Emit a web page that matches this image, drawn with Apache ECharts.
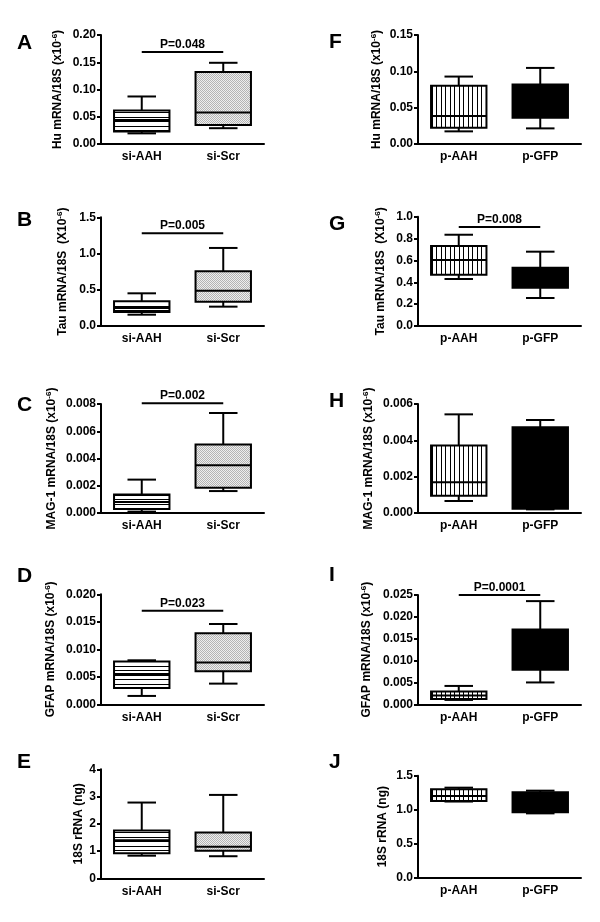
<!DOCTYPE html>
<html>
<head>
<meta charset="utf-8">
<script src="https://cdn.jsdelivr.net/npm/echarts@6/dist/echarts.min.js"></script>
<style>html,body{margin:0;padding:0;background:#fff}#c{width:600px;height:922px}</style>
</head>
<body>
<div id="c"></div>
<script>
// ---------- DATA ----------
const panelLetters = ['A','B','C','D','E','F','G','H','I','J'];
const catsLeft = ['si-AAH','si-Scr'];
const catsRight = ['p-AAH','p-GFP'];
const yNames = [
  ['Hu mRNA/18S (x10','-6',')'],
  ['Tau mRNA/18S  (X10','-6',')'],
  ['MAG-1 mRNA/18S (x10','-6',')'],
  ['GFAP mRNA/18S (x10','-6',')'],
  ['18S rRNA (ng)','',''],
  ['Hu mRNA/18S (x10','-6',')'],
  ['Tau mRNA/18S  (X10','-6',')'],
  ['MAG-1 mRNA/18S (x10','-6',')'],
  ['GFAP mRNA/18S (x10','-6',')'],
  ['18S rRNA (ng)','','']
];
const yMax      = [0.20, 1.5, 0.008, 0.020, 4, 0.15, 1.0, 0.006, 0.025, 1.5];
const yInterval = [0.05, 0.5, 0.002, 0.005, 1, 0.05, 0.2, 0.002, 0.005, 0.5];
const yDecimals = [2, 1, 3, 3, 0, 2, 1, 3, 3, 1];
// [low whisker, Q1, median, Q3, high whisker] for the two groups
const boxA = [[0.0195, 0.023, 0.044, 0.0616, 0.0872], [0.029, 0.035, 0.058, 0.132, 0.149]];
const boxB = [[0.156, 0.193, 0.25, 0.34, 0.451], [0.267, 0.336, 0.488, 0.755, 1.077]];
const boxC = [[0.0001, 0.0003, 0.0008, 0.00135, 0.00245], [0.00161, 0.00186, 0.0035, 0.00502, 0.00734]];
const boxD = [[0.00152, 0.00297, 0.0055, 0.00776, 0.0080], [0.00376, 0.0060, 0.00758, 0.0129, 0.0146]];
const boxE = [[0.83, 0.917, 1.4, 1.75, 2.78], [0.81, 1.015, 1.16, 1.68, 3.06]];
const boxF = [[0.0174, 0.0224, 0.0384, 0.080, 0.0928], [0.0215, 0.0361, 0.055, 0.0819, 0.1047]];
const boxG = [[0.43, 0.47, 0.604, 0.732, 0.835], [0.256, 0.351, 0.45, 0.534, 0.68]];
const boxH = [[0.00066, 0.00095, 0.00169, 0.00372, 0.00543], [0.0002, 0.00024, 0.0025, 0.00472, 0.00512]];
const boxI = [[0.001, 0.0012, 0.002, 0.0029, 0.0042], [0.005, 0.0079, 0.011, 0.0171, 0.0236]];
const boxJ = [[1.12, 1.127, 1.2, 1.30, 1.324], [0.946, 0.961, 1.1, 1.255, 1.28]];
const boxes = [boxA, boxB, boxC, boxD, boxE, boxF, boxG, boxH, boxI, boxJ];
// significance bars: panel index, bar height (data units), label
const pPanels = [0, 1, 2, 3, 6, 8];
const pHeights = [0.169, 1.28, 0.00805, 0.017, 0.906, 0.025];
const pLabels = ['P=0.048', 'P=0.005', 'P=0.002', 'P=0.023', 'P=0.008', 'P=0.0001'];

// ---------- LAYOUT ----------
const gridLeft = [101, 101, 101, 101, 101, 418, 418, 418, 418, 418];
const gridTop = [35, 217.3, 404, 594.3, 769.3, 35, 216.7, 404, 595, 775.7];
const gridH = [109, 108.7, 109, 110, 109, 109, 109.3, 109, 109.3, 102];
const gridW = 163;
const nameGaps = [36, 31, 42, 43, 15, 34, 30, 42, 44, 28];
const letterPos = [[17,43],[17,220],[17,405],[17,576],[17,762],[329,42],[329,224],[329,401],[329,575],[329,762]];

// ---------- PATTERNS ----------
function makeCanvas(w, h, draw) { const c = document.createElement('canvas'); c.width = w; c.height = h; const g = c.getContext('2d'); g.fillStyle = '#fff'; g.fillRect(0,0,w,h); draw(g); return c; }
const hStripe = makeCanvas(9, 9, g => { g.fillStyle = '#000'; g.fillRect(0,0,9,1); g.fillRect(0,4,9,1); });
const vStripe = makeCanvas(9, 9, g => { g.fillStyle = '#000'; g.fillRect(0,0,1,9); g.fillRect(4,0,1,9); });
const dots = makeCanvas(2, 2, g => { g.fillStyle = '#eeeeee'; g.fillRect(0,0,2,2); g.fillStyle = '#b4b4b4'; g.fillRect(0,0,1,1); g.fillRect(1,1,1,1); });
const fillsLeft = [{image: hStripe, repeat: 'repeat'}, {image: dots, repeat: 'repeat'}];
const fillsRight = [{image: vStripe, repeat: 'repeat'}, '#000'];

const FONT = 'Liberation Sans, Arial, sans-serif';

const grid = [], xAxis = [], yAxis = [], series = [], graphic = [];
for (let i = 0; i < 10; i++) {
  const right = i >= 5;
  grid.push({left: gridLeft[i], top: gridTop[i], width: gridW, height: gridH[i], containLabel: false});
  xAxis.push({
    type: 'category', gridIndex: i, data: right ? catsRight : catsLeft,
    axisLine: {lineStyle: {color: '#000', width: 2}},
    axisTick: {alignWithLabel: true, length: 4, lineStyle: {color: '#000', width: 2}},
    axisLabel: {color: '#000', fontFamily: FONT, fontWeight: 'bold', fontSize: 12, margin: 7},
    splitLine: {show: false}
  });
  const nm = yNames[i];
  yAxis.push({
    type: 'value', gridIndex: i, min: 0, max: yMax[i], interval: yInterval[i],
    name: '{n|' + nm[0] + '}' + (nm[1] ? '{s|' + nm[1] + '}{n|' + nm[2] + '}' : ''),
    nameLocation: 'middle', nameGap: nameGaps[i], nameRotate: 90,
    nameTextStyle: {rich: {
      n: {fontFamily: FONT, fontWeight: 'bold', fontSize: 12, color: '#000', lineHeight: 14},
      s: {fontFamily: FONT, fontWeight: 'bold', fontSize: 8, color: '#000', lineHeight: 14, verticalAlign: 'top'}
    }},
    axisLine: {show: true, lineStyle: {color: '#000', width: 2}},
    axisTick: {show: true, length: 4, lineStyle: {color: '#000', width: 2}},
    axisLabel: {color: '#000', fontFamily: FONT, fontWeight: 'bold', fontSize: 12, margin: 5,
      formatter: (v => v.toFixed(yDecimals[i]))},
    splitLine: {show: false}
  });
  const fills = right ? fillsRight : fillsLeft;
  series.push({
    type: 'custom', xAxisIndex: i, yAxisIndex: i, clip: false,
    data: boxes[i].map((b, k) => [k].concat(b)),
    encode: {x: 0, y: [1, 2, 3, 4, 5]},
    renderItem: function (params, api) {
      const k = api.value(0);
      const band = api.size([1, 0])[0];
      const x = api.coord([k, 0])[0];
      const yl = api.coord([k, api.value(1)])[1];
      const y1 = api.coord([k, api.value(2)])[1];
      const ym = api.coord([k, api.value(3)])[1];
      const y3 = api.coord([k, api.value(4)])[1];
      const yh = api.coord([k, api.value(5)])[1];
      const hw = band * 0.34, cw = band * 0.175;
      const ls = {stroke: '#000', lineWidth: 2};
      return {type: 'group', children: [
        {type: 'line', shape: {x1: x, y1: y3, x2: x, y2: yh}, style: ls},
        {type: 'line', shape: {x1: x - cw, y1: yh, x2: x + cw, y2: yh}, style: ls},
        {type: 'line', shape: {x1: x, y1: y1, x2: x, y2: yl}, style: ls},
        {type: 'line', shape: {x1: x - cw, y1: yl, x2: x + cw, y2: yl}, style: ls},
        {type: 'rect', shape: {x: x - hw, y: y3, width: 2 * hw, height: y1 - y3},
          style: {fill: fills[k], stroke: '#000', lineWidth: 2}},
        {type: 'line', shape: {x1: x - hw, y1: ym, x2: x + hw, y2: ym}, style: ls}
      ]};
    }
  });
  graphic.push({type: 'text', x: letterPos[i][0], y: letterPos[i][1],
    style: {text: panelLetters[i], font: 'bold 21px ' + FONT, fill: '#000', verticalAlign: 'middle', align: 'left'}});
}
// significance bars
pPanels.forEach((pi, j) => {
  series.push({
    type: 'custom', xAxisIndex: pi, yAxisIndex: pi, clip: false,
    data: [[0, pHeights[j]]],
    encode: {x: 0, y: 1},
    renderItem: function (params, api) {
      const p0 = api.coord([0, api.value(1)]);
      const p1 = api.coord([1, api.value(1)]);
      return {type: 'group', children: [
        {type: 'line', shape: {x1: p0[0], y1: p0[1], x2: p1[0], y2: p1[1]}, style: {stroke: '#000', lineWidth: 2}},
        {type: 'text', x: (p0[0] + p1[0]) / 2, y: p0[1] - 7.5,
          style: {text: pLabels[j], font: 'bold 12px ' + FONT, fill: '#000', align: 'center', verticalAlign: 'middle'}}
      ]};
    }
  });
});

const chart = echarts.init(document.getElementById('c'), null, {renderer: 'canvas', width: 600, height: 922});
chart.setOption({backgroundColor: '#fff', animation: false, grid, xAxis, yAxis, series, graphic});
</script>
</body>
</html>
